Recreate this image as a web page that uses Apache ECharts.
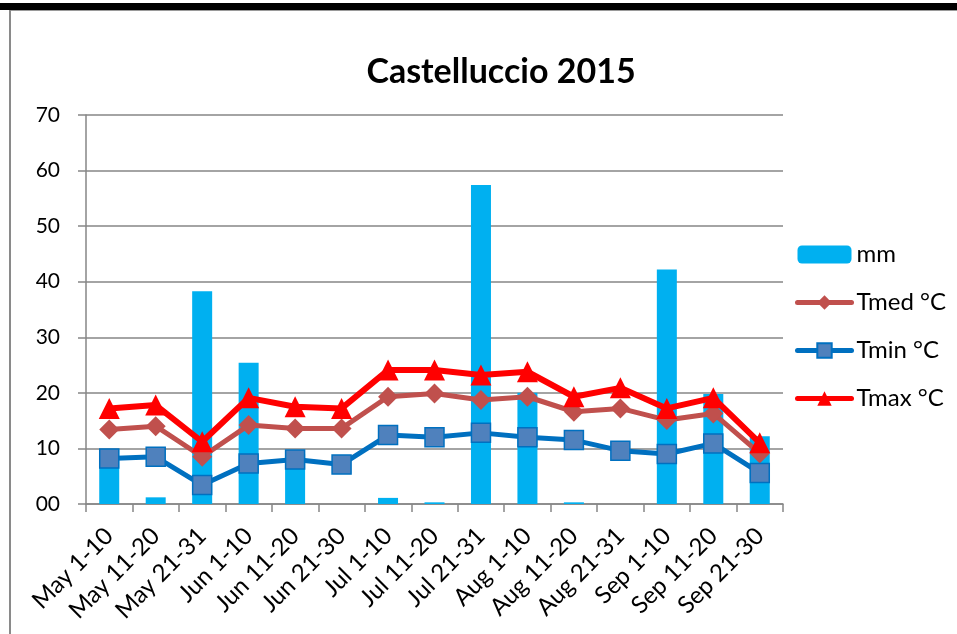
<!DOCTYPE html>
<html>
<head>
<meta charset="utf-8">
<script src="https://cdn.jsdelivr.net/npm/echarts@6/dist/echarts.min.js"></script>
<style>
  html, body { margin: 0; padding: 0; background: #fff; }
  #wrap { position: relative; width: 957px; height: 634px; overflow: hidden; }
  #topbar { position: absolute; left: 0; top: 3px; width: 957px; height: 7px; background: #000; }
  #topline { position: absolute; left: 10px; top: 10px; width: 947px; height: 1px; background: #9a9a9a; }
  #leftline { position: absolute; left: 9px; top: 10px; width: 2px; height: 624px; background: #8a8a8a; }
  #chart { position: absolute; left: 0; top: 0; width: 957px; height: 634px; }
</style>
</head>
<body>
<div id="wrap">
  <div id="chart"></div>
  <div id="topbar"></div>
  <div id="topline"></div>
  <div id="leftline"></div>
</div>
<script>
const categories = ['May 1-10', 'May 11-20', 'May 21-31', 'Jun 1-10', 'Jun 11-20', 'Jun 21-30',
  'Jul 1-10', 'Jul 11-20', 'Jul 21-31', 'Aug 1-10', 'Aug 11-20', 'Aug 21-31',
  'Sep 1-10', 'Sep 11-20', 'Sep 21-30']
const mm = [9.8, 1.2, 38.3, 25.4, 9.0, 0, 1.1, 0.3, 57.4, 20.0, 0.3, 0, 42.2, 19.8, 12.2]
const tmed = [13.4, 14.0, 8.5, 14.2, 13.6, 13.6, 19.3, 19.9, 18.7, 19.3, 16.6, 17.2, 15.1, 16.3, 9.1]
const tmin = [8.2, 8.5, 3.4, 7.3, 8.0, 7.1, 12.4, 12.0, 12.8, 12.0, 11.5, 9.6, 9.0, 10.9, 5.6]
const tmax = [17.2, 17.8, 11.2, 19.1, 17.5, 17.2, 24.1, 24.1, 23.2, 23.8, 19.3, 20.9, 17.2, 19.1, 11.0]

const font = 'Lato, "Open Sans", sans-serif'
const axisGray = '#868686'

const chart = echarts.init(document.getElementById('chart'))

const option = {
  animation: false,
  textStyle: { fontFamily: font, color: '#000' },
  title: {
    text: 'Castelluccio 2015',
    left: 496,
    top: 50,
    textAlign: 'center',
    textStyle: { fontSize: 34, fontWeight: 'bold', color: '#000', fontFamily: font }
  },
  legend: {
    orient: 'vertical',
    left: 795,
    top: 242,
    padding: 0,
    itemWidth: 54,
    itemHeight: 18,
    itemGap: 23,
    lineStyle: { width: 5, cap: 'round' },
    textStyle: { fontSize: 24, lineHeight: 25, color: '#000', fontFamily: font },
    data: ['mm', 'Tmed °C', 'Tmin °C', 'Tmax °C']
  },
  grid: {
    left: 86,
    right: 174,
    top: 115,
    bottom: 130
  },
  xAxis: {
    type: 'category',
    data: categories,
    axisLine: { lineStyle: { color: axisGray, width: 1.5 } },
    axisTick: { show: true, length: 8, lineStyle: { color: axisGray, width: 1.5 } },
    axisLabel: { rotate: 45, fontSize: 24, color: '#000', margin: 28, interval: 0, fontFamily: font }
  },
  yAxis: {
    type: 'value',
    min: 0,
    max: 70,
    interval: 10,
    axisLine: { show: true, lineStyle: { color: axisGray, width: 1.5 } },
    axisTick: { show: true, length: 8, lineStyle: { color: axisGray, width: 1.5 } },
    axisLabel: {
      fontSize: 21, color: '#000', margin: 26, fontFamily: font,
      formatter: v => (v < 10 ? '0' + v : String(v))
    },
    splitLine: { lineStyle: { color: axisGray, width: 1.5 } }
  },
  series: [
    {
      name: 'mm',
      type: 'bar',
      data: mm,
      barWidth: 20,
      itemStyle: { color: '#00b0f0' }
    },
    {
      name: 'Tmed °C',
      type: 'line',
      data: tmed,
      symbol: 'diamond',
      symbolSize: 20,
      lineStyle: { color: '#c0504d', width: 5 },
      itemStyle: { color: '#c0504d' }
    },
    {
      name: 'Tmin °C',
      type: 'line',
      data: tmin,
      symbol: 'rect',
      symbolSize: 19,
      lineStyle: { color: '#0070c0', width: 5 },
      itemStyle: { color: '#4f81bd', borderColor: '#0070c0', borderWidth: 1.5 }
    },
    {
      name: 'Tmax °C',
      type: 'line',
      data: tmax,
      symbol: 'triangle',
      symbolSize: 21,
      lineStyle: { color: '#ff0000', width: 6 },
      itemStyle: { color: '#ff0000' }
    }
  ]
}

chart.setOption(option)
</script>
</body>
</html>
